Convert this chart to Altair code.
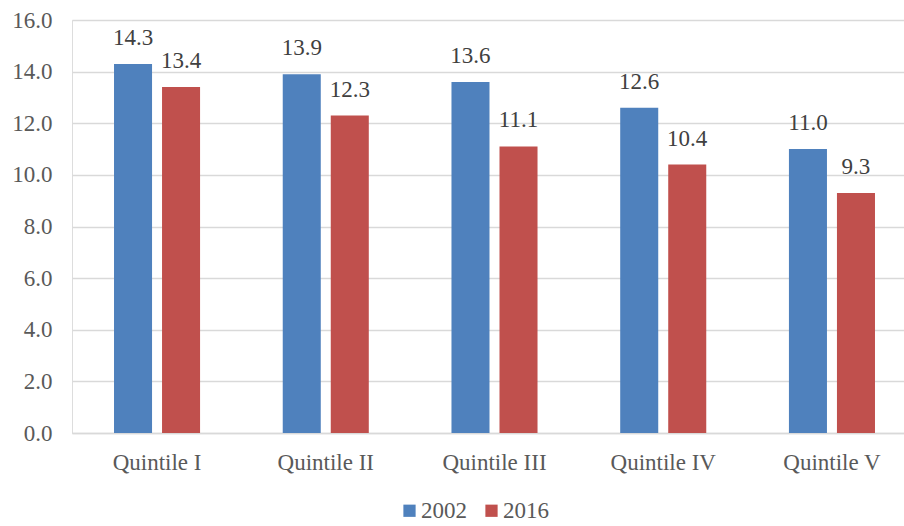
import altair as alt
import pandas as pd

# Values by income quintile for the two survey years
quintiles = ["Quintile I", "Quintile II", "Quintile III", "Quintile IV", "Quintile V"]
years = ["2002", "2016"]
values_2002 = [14.3, 13.9, 13.6, 12.6, 11.0]
values_2016 = [13.4, 12.3, 11.1, 10.4, 9.3]
y_ticks = [0, 2, 4, 6, 8, 10, 12, 14, 16]

rows = []
for q, a, b in zip(quintiles, values_2002, values_2016):
    rows.append({"quintile": q, "year": years[0], "value": a})
    rows.append({"quintile": q, "year": years[1], "value": b})
df = pd.DataFrame(rows)

FONT = "Liberation Serif"

x_enc = alt.X(
    "quintile:N",
    sort=quintiles,
    scale=alt.Scale(paddingInner=0.49, paddingOuter=0.249),
    axis=alt.Axis(
        title=None, labelAngle=0, ticks=False, domain=True,
        domainColor="#D9D9D9", domainWidth=1.3,
        labelFont=FONT, labelFontSize=23, labelColor="#595959",
        labelPadding=18,
    ),
)
xoff_enc = alt.XOffset(
    "year:N", sort=years,
    scale=alt.Scale(paddingInner=0.208, paddingOuter=0),
)
y_enc = alt.Y(
    "value:Q",
    scale=alt.Scale(domain=[0, 16], nice=False),
    axis=alt.Axis(
        title=None, values=y_ticks, format=".1f", ticks=False, domain=False,
        gridColor="#D9D9D9", gridWidth=1.3,
        labelFont=FONT, labelFontSize=23, labelColor="#595959",
        labelPadding=20,
    ),
)

bars = alt.Chart(df).mark_bar().encode(
    x=x_enc,
    xOffset=xoff_enc,
    y=y_enc,
    color=alt.Color(
        "year:N",
        sort=years,
        scale=alt.Scale(domain=years, range=["#4F81BD", "#C0504D"]),
        legend=alt.Legend(
            title=None, orient="none", direction="horizontal",
            legendX=326, legendY=479,
            symbolType="square", symbolSize=150, symbolStrokeWidth=0,
            labelFont=FONT, labelFontSize=23, labelColor="#595959",
            labelOffset=0, columnPadding=13, padding=0,
        ),
    ),
)

labels = alt.Chart(df).mark_text(
    font=FONT, fontSize=23, color="#404040",
    baseline="alphabetic", align="center", dy=-19,
).encode(
    x=alt.X("quintile:N", sort=quintiles),
    xOffset=alt.XOffset("year:N", sort=years),
    y=alt.Y("value:Q"),
    text=alt.Text("value:Q", format=".1f"),
)

chart = (
    alt.layer(bars, labels)
    .properties(
        width=845,
        height=413,
        autosize=alt.AutoSizeParams(type="none"),
        padding={"left": 72, "top": 20, "right": -13, "bottom": 93},
    )
    .configure_view(stroke=None)
    .configure(background="white")
)

chart.save("out.html", embed_options={"renderer": "svg", "actions": False})
